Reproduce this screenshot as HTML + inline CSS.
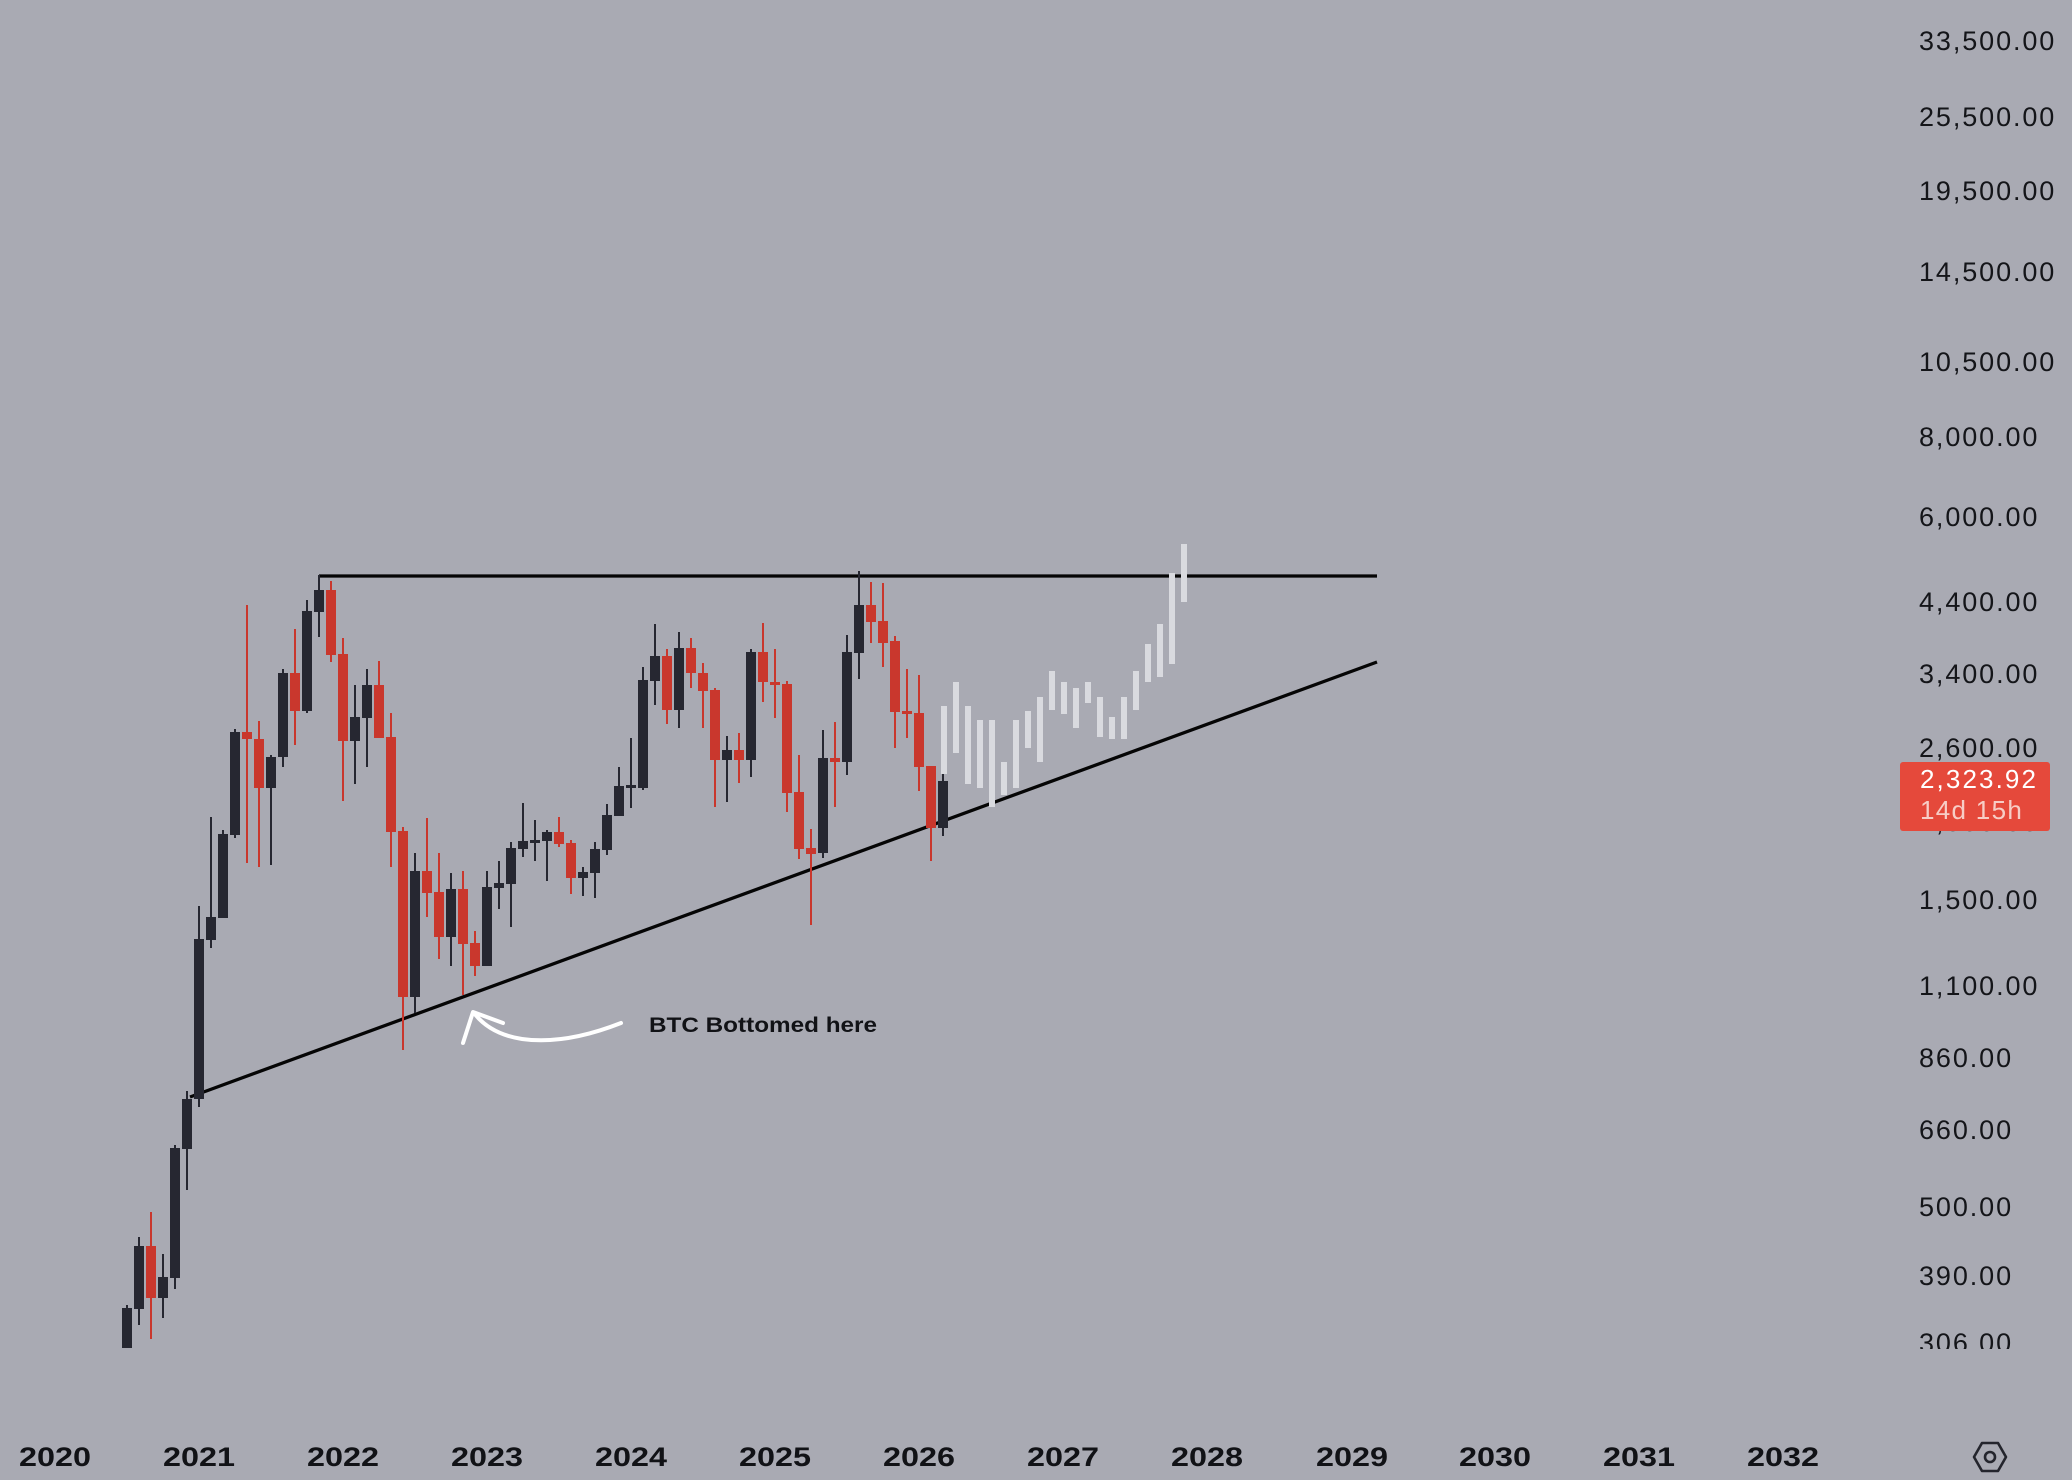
<!DOCTYPE html>
<html><head><meta charset="utf-8"><style>
html,body{margin:0;padding:0;background:#a9aab3;}
svg{display:block;}
text{font-family:"Liberation Sans",sans-serif;}
</style></head><body>
<svg width="2072" height="1480" viewBox="0 0 2072 1480" xmlns="http://www.w3.org/2000/svg">
<defs><clipPath id="pc"><rect x="0" y="0" width="2072" height="1349"/></clipPath></defs>
<rect x="0" y="0" width="2072" height="1480" fill="#a9aab3"/>

<!-- price axis labels -->
<g font-size="27" fill="#141519" letter-spacing="1.9" clip-path="url(#pc)">
<text x="1919" y="50">33,500.00</text>
<text x="1919" y="126">25,500.00</text>
<text x="1919" y="200">19,500.00</text>
<text x="1919" y="281">14,500.00</text>
<text x="1919" y="371">10,500.00</text>
<text x="1919" y="446">8,000.00</text>
<text x="1919" y="526">6,000.00</text>
<text x="1919" y="611">4,400.00</text>
<text x="1919" y="683">3,400.00</text>
<text x="1919" y="757">2,600.00</text>
<text x="1919" y="831">2,000.00</text>
<text x="1919" y="909">1,500.00</text>
<text x="1919" y="995">1,100.00</text>
<text x="1919" y="1067">860.00</text>
<text x="1919" y="1139">660.00</text>
<text x="1919" y="1216">500.00</text>
<text x="1919" y="1285">390.00</text>
<text x="1919" y="1352">306.00</text>
</g>

<!-- price tag -->
<rect x="1900" y="762" width="150" height="69" rx="3" fill="#e5493b"/>
<text x="1920" y="788" font-size="26" fill="#ffffff" letter-spacing="2.1">2,323.92</text>
<text x="1920" y="819" font-size="26" fill="#f7cdc6" letter-spacing="1.3">14d 15h</text>

<!-- lines -->
<line x1="319" y1="576" x2="1377" y2="576" stroke="#050505" stroke-width="3.3"/>
<line x1="190" y1="1097" x2="1377" y2="662" stroke="#050505" stroke-width="3.3"/>

<!-- dark candles -->
<g fill="#262731">
<rect x="126" y="1305" width="2" height="43"/><rect x="122" y="1308" width="10" height="40"/>
<rect x="138" y="1237" width="2" height="88"/><rect x="134" y="1246" width="10" height="63"/>
<rect x="162" y="1254" width="2" height="64"/><rect x="158" y="1277" width="10" height="21"/>
<rect x="174" y="1145" width="2" height="144"/><rect x="170" y="1148" width="10" height="130"/>
<rect x="186" y="1091" width="2" height="99"/><rect x="182" y="1099" width="10" height="50"/>
<rect x="198" y="906" width="2" height="201"/><rect x="194" y="939" width="10" height="160"/>
<rect x="210" y="817" width="2" height="131"/><rect x="206" y="917" width="10" height="23"/>
<rect x="222" y="830" width="2" height="88"/><rect x="218" y="834" width="10" height="84"/>
<rect x="234" y="729" width="2" height="109"/><rect x="230" y="732" width="10" height="103"/>
<rect x="270" y="755" width="2" height="110"/><rect x="266" y="757" width="10" height="31"/>
<rect x="282" y="669" width="2" height="98"/><rect x="278" y="673" width="10" height="84"/>
<rect x="306" y="600" width="2" height="113"/><rect x="302" y="611" width="10" height="100"/>
<rect x="318" y="575" width="2" height="62"/><rect x="314" y="590" width="10" height="22"/>
<rect x="354" y="685" width="2" height="99"/><rect x="350" y="717" width="10" height="24"/>
<rect x="366" y="669" width="2" height="98"/><rect x="362" y="685" width="10" height="33"/>
<rect x="414" y="853" width="2" height="160"/><rect x="410" y="871" width="10" height="126"/>
<rect x="450" y="873" width="2" height="93"/><rect x="446" y="889" width="10" height="48"/>
<rect x="486" y="871" width="2" height="95"/><rect x="482" y="887" width="10" height="79"/>
<rect x="498" y="861" width="2" height="48"/><rect x="494" y="883" width="10" height="5"/>
<rect x="510" y="842" width="2" height="85"/><rect x="506" y="848" width="10" height="36"/>
<rect x="522" y="803" width="2" height="54"/><rect x="518" y="841" width="10" height="8"/>
<rect x="534" y="820" width="2" height="41"/><rect x="530" y="840" width="10" height="3"/>
<rect x="546" y="830" width="2" height="51"/><rect x="542" y="832" width="10" height="9"/>
<rect x="582" y="867" width="2" height="29"/><rect x="578" y="872" width="10" height="6"/>
<rect x="594" y="842" width="2" height="56"/><rect x="590" y="849" width="10" height="24"/>
<rect x="606" y="804" width="2" height="51"/><rect x="602" y="815" width="10" height="35"/>
<rect x="618" y="767" width="2" height="49"/><rect x="614" y="786" width="10" height="30"/>
<rect x="630" y="738" width="2" height="70"/><rect x="626" y="785" width="10" height="3"/>
<rect x="642" y="667" width="2" height="123"/><rect x="638" y="680" width="10" height="108"/>
<rect x="654" y="624" width="2" height="81"/><rect x="650" y="656" width="10" height="25"/>
<rect x="678" y="632" width="2" height="96"/><rect x="674" y="648" width="10" height="62"/>
<rect x="726" y="736" width="2" height="66"/><rect x="722" y="750" width="10" height="10"/>
<rect x="750" y="649" width="2" height="128"/><rect x="746" y="652" width="10" height="108"/>
<rect x="822" y="730" width="2" height="128"/><rect x="818" y="758" width="10" height="95"/>
<rect x="846" y="635" width="2" height="140"/><rect x="842" y="652" width="10" height="110"/>
<rect x="858" y="571" width="2" height="108"/><rect x="854" y="605" width="10" height="48"/>
</g>

<!-- red candles -->
<g fill="#c9372d">
<rect x="150" y="1212" width="2" height="127"/><rect x="146" y="1246" width="10" height="52"/>
<rect x="246" y="605" width="2" height="258"/><rect x="242" y="732" width="10" height="7"/>
<rect x="258" y="721" width="2" height="146"/><rect x="254" y="739" width="10" height="49"/>
<rect x="294" y="629" width="2" height="116"/><rect x="290" y="673" width="10" height="38"/>
<rect x="330" y="581" width="2" height="81"/><rect x="326" y="590" width="10" height="65"/>
<rect x="342" y="638" width="2" height="163"/><rect x="338" y="654" width="10" height="87"/>
<rect x="378" y="661" width="2" height="77"/><rect x="374" y="685" width="10" height="53"/>
<rect x="390" y="713" width="2" height="154"/><rect x="386" y="737" width="10" height="95"/>
<rect x="402" y="827" width="2" height="223"/><rect x="398" y="831" width="10" height="166"/>
<rect x="426" y="818" width="2" height="99"/><rect x="422" y="871" width="10" height="22"/>
<rect x="438" y="853" width="2" height="106"/><rect x="434" y="892" width="10" height="45"/>
<rect x="462" y="871" width="2" height="124"/><rect x="458" y="889" width="10" height="55"/>
<rect x="474" y="931" width="2" height="45"/><rect x="470" y="943" width="10" height="23"/>
<rect x="558" y="817" width="2" height="30"/><rect x="554" y="832" width="10" height="12"/>
<rect x="570" y="840" width="2" height="54"/><rect x="566" y="843" width="10" height="35"/>
<rect x="666" y="649" width="2" height="75"/><rect x="662" y="656" width="10" height="54"/>
<rect x="690" y="638" width="2" height="50"/><rect x="686" y="648" width="10" height="25"/>
<rect x="702" y="663" width="2" height="65"/><rect x="698" y="673" width="10" height="18"/>
<rect x="714" y="688" width="2" height="119"/><rect x="710" y="690" width="10" height="70"/>
<rect x="738" y="733" width="2" height="50"/><rect x="734" y="750" width="10" height="10"/>
<rect x="762" y="623" width="2" height="79"/><rect x="758" y="652" width="10" height="30"/>
<rect x="774" y="649" width="2" height="69"/><rect x="770" y="682" width="10" height="3"/>
<rect x="786" y="681" width="2" height="131"/><rect x="782" y="684" width="10" height="109"/>
<rect x="798" y="755" width="2" height="104"/><rect x="794" y="792" width="10" height="57"/>
<rect x="810" y="829" width="2" height="96"/><rect x="806" y="848" width="10" height="6"/>
<rect x="834" y="722" width="2" height="85"/><rect x="830" y="758" width="10" height="4"/>
<rect x="870" y="582" width="2" height="61"/><rect x="866" y="605" width="10" height="17"/>
<rect x="882" y="583" width="2" height="84"/><rect x="878" y="621" width="10" height="22"/>
<rect x="894" y="636" width="2" height="112"/><rect x="890" y="641" width="10" height="71"/>
<rect x="906" y="669" width="2" height="69"/><rect x="902" y="711" width="10" height="3"/>
<rect x="918" y="675" width="2" height="116"/><rect x="914" y="713" width="10" height="54"/>
<rect x="930" y="766" width="2" height="95"/><rect x="926" y="766" width="10" height="62"/>
</g>

<!-- projection ghost bars -->
<g fill="#d9dadf">
<rect x="941" y="706" width="6" height="68"/>
<rect x="953" y="682" width="6" height="71"/>
<rect x="965" y="706" width="6" height="78"/>
<rect x="977" y="720" width="6" height="68"/>
<rect x="989" y="720" width="6" height="87"/>
<rect x="1001" y="762" width="6" height="33"/>
<rect x="1013" y="720" width="6" height="68"/>
<rect x="1025" y="711" width="6" height="37"/>
<rect x="1037" y="697" width="6" height="65"/>
<rect x="1049" y="671" width="6" height="39"/>
<rect x="1061" y="682" width="6" height="32"/>
<rect x="1073" y="688" width="6" height="40"/>
<rect x="1085" y="682" width="6" height="21"/>
<rect x="1097" y="697" width="6" height="40"/>
<rect x="1109" y="717" width="6" height="22"/>
<rect x="1121" y="697" width="6" height="42"/>
<rect x="1133" y="671" width="6" height="39"/>
<rect x="1145" y="644" width="6" height="38"/>
<rect x="1157" y="624" width="6" height="53"/>
<rect x="1169" y="573" width="6" height="91"/>
<rect x="1181" y="544" width="6" height="58"/>
</g>

<!-- last dark candle on top -->
<g fill="#262731">
<rect x="942" y="774" width="2" height="62"/><rect x="938" y="781" width="10" height="47"/>
</g>

<!-- arrow annotation -->
<g fill="none" stroke="#ffffff" stroke-width="4" stroke-linecap="round" stroke-linejoin="round">
<path d="M621,1023 Q565,1045 522,1039 Q490,1034 474,1013"/>
<path d="M463,1043 L473,1012 L503,1023"/>
</g>
<text x="649" y="1032" font-size="21" font-weight="bold" fill="#111216" textLength="228" lengthAdjust="spacingAndGlyphs">BTC Bottomed here</text>

<!-- time axis -->
<g font-size="27" font-weight="bold" fill="#111216" text-anchor="middle">
<text x="55" y="1466" textLength="72" lengthAdjust="spacingAndGlyphs">2020</text>
<text x="199" y="1466" textLength="72" lengthAdjust="spacingAndGlyphs">2021</text>
<text x="343" y="1466" textLength="72" lengthAdjust="spacingAndGlyphs">2022</text>
<text x="487" y="1466" textLength="72" lengthAdjust="spacingAndGlyphs">2023</text>
<text x="631" y="1466" textLength="72" lengthAdjust="spacingAndGlyphs">2024</text>
<text x="775" y="1466" textLength="72" lengthAdjust="spacingAndGlyphs">2025</text>
<text x="919" y="1466" textLength="72" lengthAdjust="spacingAndGlyphs">2026</text>
<text x="1063" y="1466" textLength="72" lengthAdjust="spacingAndGlyphs">2027</text>
<text x="1207" y="1466" textLength="72" lengthAdjust="spacingAndGlyphs">2028</text>
<text x="1352" y="1466" textLength="72" lengthAdjust="spacingAndGlyphs">2029</text>
<text x="1495" y="1466" textLength="72" lengthAdjust="spacingAndGlyphs">2030</text>
<text x="1639" y="1466" textLength="72" lengthAdjust="spacingAndGlyphs">2031</text>
<text x="1783" y="1466" textLength="72" lengthAdjust="spacingAndGlyphs">2032</text>
</g>

<!-- settings hexagon icon -->
<g fill="none" stroke="#24252d" stroke-width="2.6" stroke-linejoin="round">
<polygon points="1974,1457 1982,1443 1998,1443 2006,1457 1998,1471 1982,1471"/>
<circle cx="1990" cy="1457" r="5"/>
</g>
</svg>
</body></html>
